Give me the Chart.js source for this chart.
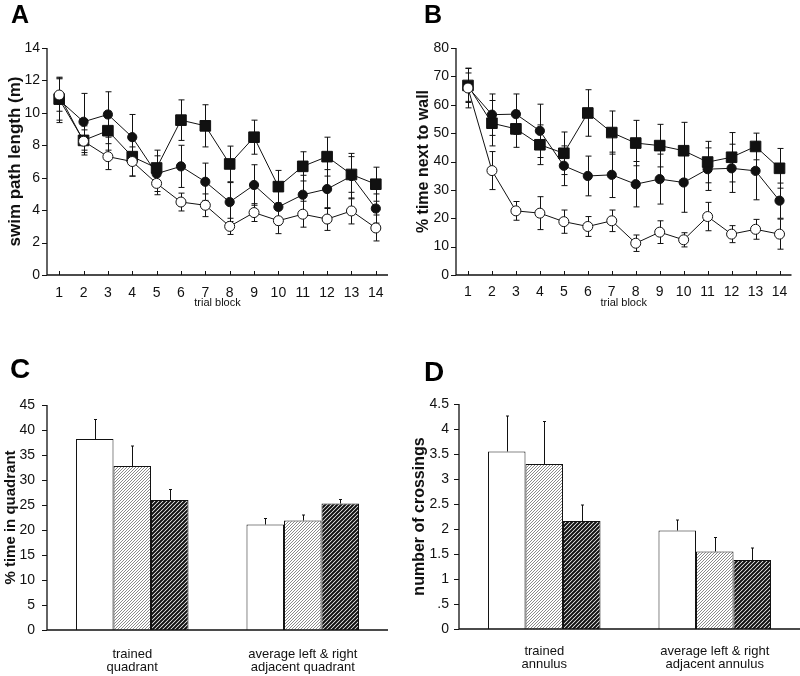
<!DOCTYPE html>
<html>
<head>
<meta charset="utf-8">
<script src="https://cdn.jsdelivr.net/npm/chart.js@4.4.1/dist/chart.umd.min.js"></script>
<style>
  body { margin: 0; background: #fff; width: 800px; height: 676px; position: relative; overflow: hidden;
         font-family: "Liberation Sans", Arial, sans-serif; }
  .panel { position: absolute; }
  .letter { position: absolute; font-weight: bold; line-height: 1; color: #000; }
</style>
</head>
<body>
<div class="panel" style="left:0;top:0"><canvas id="chartA" width="400" height="330"></canvas></div>
<div class="panel" style="left:400px;top:0"><canvas id="chartB" width="400" height="330"></canvas></div>
<div class="panel" style="left:0;top:330px"><canvas id="chartC" width="400" height="346"></canvas></div>
<div class="panel" style="left:400px;top:330px"><canvas id="chartD" width="400" height="346"></canvas></div>
<div class="letter" style="left:11px;top:2px;font-size:25px">A</div>
<div class="letter" style="left:424px;top:2px;font-size:25px">B</div>
<div class="letter" style="left:10px;top:355px;font-size:28px">C</div>
<div class="letter" style="left:424px;top:358px;font-size:28px">D</div>

<script>
// trial blocks (x categories for A and B)
const trialBlocks = ['1', '2', '3', '4', '5', '6', '7', '8', '9', '10', '11', '12', '13', '14'];

// A: swim path length (m)
const pathOpen      = [11.1, 8.25, 7.3, 7.0, 5.65, 4.5, 4.3, 3.0, 3.85, 3.35, 3.75, 3.45, 3.95, 2.9];
const pathOpenErr   = [1.0, 0.7, 0.8, 0.9, 0.7, 0.55, 0.7, 0.5, 0.55, 0.8, 0.8, 0.7, 0.8, 0.8];
const pathSquare    = [10.85, 8.3, 8.9, 7.3, 6.6, 9.55, 9.2, 6.85, 8.5, 5.45, 6.7, 7.3, 6.2, 5.6];
const pathSquareErr = [1.3, 0.9, 1.2, 1.2, 1.1, 1.25, 1.3, 1.1, 1.05, 1.0, 0.9, 1.2, 1.1, 1.05];
const pathFilled    = [10.8, 9.45, 9.9, 8.5, 6.25, 6.7, 5.75, 4.5, 5.55, 4.2, 4.95, 5.3, 6.1, 4.1];
const pathFilledErr = [1.4, 1.75, 1.4, 1.4, 1.1, 1.3, 1.15, 1.2, 1.25, 1.1, 1.2, 1.2, 1.4, 0.9];

// B: % time next to wall
const wallOpen      = [65.9, 36.8, 22.6, 21.8, 18.8, 17.1, 19.1, 11.2, 15.1, 12.4, 20.6, 14.4, 16.1, 14.4];
const wallOpenErr   = [7, 6.7, 3.3, 5.8, 4.1, 3.5, 3.8, 2.9, 4, 2.5, 5, 3, 3.5, 5.3];
const wallSquare    = [66.8, 53.5, 51.5, 45.9, 42.9, 57.1, 50.2, 46.5, 45.6, 43.8, 39.8, 41.5, 45.3, 37.6];
const wallSquareErr = [6, 8, 6.5, 7, 7.5, 8.2, 7.6, 8, 7.5, 10, 7.3, 8.7, 4.7, 7];
const wallFilled    = [66.2, 56.5, 56.7, 50.8, 38.5, 34.9, 35.3, 32.0, 33.8, 32.6, 37.3, 37.6, 36.7, 26.2];
const wallFilledErr = [5, 7.3, 7.1, 9.4, 7, 7, 8, 8, 8.8, 10.5, 7.5, 8.5, 10.2, 6.2];

// C: % time in quadrant
const quadCats     = [['trained', 'quadrant'], ['average left & right', 'adjacent quadrant']];
const quadWhite    = [38.2, 21.1];
const quadWhiteErr = [3.9, 1.2];
const quadLight    = [32.8, 21.9];
const quadLightErr = [4.0, 1.1];
const quadDark     = [26.0, 25.3];
const quadDarkErr  = [2.1, 0.8];

// D: number of crossings
const annCats     = [['trained', 'annulus'], ['average left & right', 'adjacent annulus']];
const annWhite    = [3.55, 1.97];
const annWhiteErr = [0.71, 0.21];
const annLight    = [3.30, 1.55];
const annLightErr = [0.85, 0.28];
const annDark     = [2.16, 1.38];
const annDarkErr  = [0.32, 0.24];

Chart.defaults.font.family = '"Liberation Sans", Arial, sans-serif';
Chart.defaults.color = '#111';
Chart.defaults.animation = false;

// axis lines + tick marks (majors longer than minors, x ticks point inward)
const figAxes = {
  id: 'figAxes',
  afterDraw(chart, args, opts) {
    const { ctx, chartArea: a, scales: { x, y } } = chart;
    ctx.save();
    ctx.strokeStyle = '#111';
    ctx.lineWidth = 1.3;
    ctx.beginPath();
    ctx.moveTo(a.left, a.top);
    ctx.lineTo(a.left, a.bottom);
    ctx.lineTo(a.right, a.bottom);
    ctx.stroke();
    ctx.lineWidth = 1;
    y.ticks.forEach(t => {
      const py = Math.round(y.getPixelForValue(t.value)) + 0.5;
      const len = t.label !== '' ? 5 : 3;
      ctx.beginPath();
      ctx.moveTo(a.left, py);
      ctx.lineTo(a.left - len, py);
      ctx.stroke();
    });
    if (opts.xTicks) {
      x.ticks.forEach((t, i) => {
        const px = Math.round(x.getPixelForValue(i)) + 0.5;
        ctx.beginPath();
        ctx.moveTo(px, a.bottom);
        ctx.lineTo(px, a.bottom - 4);
        ctx.stroke();
      });
    }
    ctx.restore();
  }
};

// error bars, read from each dataset's "errors" array
function drawErrors(chart) {
  const { ctx, scales: { y } } = chart;
  ctx.save();
  ctx.strokeStyle = '#111';
  ctx.lineWidth = 1;
  chart.data.datasets.forEach((ds, i) => {
    if (!ds.errors) return;
    const meta = chart.getDatasetMeta(i);
    meta.data.forEach((el, j) => {
      const v = ds.data[j], e = ds.errors[j];
      const x = Math.round(el.x) + 0.5;
      const top = y.getPixelForValue(v + e);
      const bot = y.getPixelForValue(ds.upOnly ? v : v - e);
      const cap = ds.upOnly ? 1.5 : 3;
      ctx.beginPath();
      ctx.moveTo(x, top);
      ctx.lineTo(x, bot);
      ctx.moveTo(x - cap, top);
      ctx.lineTo(x + cap, top);
      if (!ds.upOnly) {
        ctx.moveTo(x - cap, bot);
        ctx.lineTo(x + cap, bot);
      }
      ctx.stroke();
    });
  });
  ctx.restore();
}

const errorBars = {
  id: 'errorBars',
  beforeDatasetsDraw(chart) { if (chart.config.type === 'line') drawErrors(chart); },
  afterDatasetsDraw(chart) { if (chart.config.type === 'bar') drawErrors(chart); }
};

Chart.register(figAxes, errorBars);

function hatch(color, width, size) {
  const c = document.createElement('canvas');
  c.width = c.height = size;
  const g = c.getContext('2d');
  g.fillStyle = '#fff';
  g.fillRect(0, 0, size, size);
  g.strokeStyle = color;
  g.lineWidth = width;
  g.beginPath();
  g.moveTo(0, size); g.lineTo(size, 0);
  g.moveTo(-1, 1); g.lineTo(1, -1);
  g.moveTo(size - 1, size + 1); g.lineTo(size + 1, size - 1);
  g.stroke();
  return g.createPattern(c, 'repeat');
}

function lineSeries(data, errors, style) {
  const base = {
    data: data,
    errors: errors,
    borderColor: '#111',
    borderWidth: 1,
    pointBorderColor: '#111',
    pointBorderWidth: 1,
    tension: 0
  };
  if (style === 'open') return Object.assign(base, { pointStyle: 'circle', pointRadius: 5, pointBackgroundColor: '#fff' });
  if (style === 'square') return Object.assign(base, { pointStyle: 'rect', pointRadius: 7.5, pointBackgroundColor: '#111' });
  return Object.assign(base, { pointStyle: 'circle', pointRadius: 4.6, pointBackgroundColor: '#111' });
}

function yAxis(max, step, labelOf, title, g) {
  return {
    min: 0, max: max,
    grid: { display: false, drawTicks: false },
    border: { display: false },
    ticks: { stepSize: step, maxTicksLimit: 100, padding: g.tickPad, font: { size: 14 }, callback: labelOf },
    title: { display: true, text: title, font: { size: g.titleSize, weight: 'bold' }, padding: { top: g.titlePad } },
    afterFit(s) { s.width = g.yw; }
  };
}

// A
new Chart(document.getElementById('chartA'), {
  type: 'line',
  data: {
    labels: trialBlocks,
    datasets: [
      lineSeries(pathOpen, pathOpenErr, 'open'),
      lineSeries(pathSquare, pathSquareErr, 'square'),
      lineSeries(pathFilled, pathFilledErr, 'filled')
    ]
  },
  options: {
    responsive: false,
    layout: { padding: { top: 48, right: 12, left: 0, bottom: 0 } },
    plugins: { legend: { display: false }, tooltip: { enabled: false }, figAxes: { xTicks: true } },
    scales: {
      x: {
        offset: true,
        grid: { display: false, drawTicks: false },
        border: { display: false },
        ticks: { padding: 10, font: { size: 14 }, autoSkip: false, maxRotation: 0 },
        title: { display: true, text: 'trial block', font: { size: 11 }, padding: { top: 0, bottom: 20 } },
        afterFit(s) { s.height = 55; }
      },
      y: yAxis(14, 1, v => (v % 2 === 0 ? String(v) : ''), 'swim path length (m)',
        { yw: 47, tickPad: 7, titleSize: 17, titlePad: 5 })
    }
  }
});

// B
new Chart(document.getElementById('chartB'), {
  type: 'line',
  data: {
    labels: trialBlocks,
    datasets: [
      lineSeries(wallOpen, wallOpenErr, 'open'),
      lineSeries(wallSquare, wallSquareErr, 'square'),
      lineSeries(wallFilled, wallFilledErr, 'filled')
    ]
  },
  options: {
    responsive: false,
    layout: { padding: { top: 48, right: 3, left: 0, bottom: 0 } },
    plugins: { legend: { display: false }, tooltip: { enabled: false }, figAxes: { xTicks: true } },
    scales: {
      x: {
        offset: true,
        grid: { display: false, drawTicks: false },
        border: { display: false },
        ticks: { padding: 9, font: { size: 14 }, autoSkip: false, maxRotation: 0 },
        title: { display: true, text: 'trial block', font: { size: 11 }, padding: { top: 0, bottom: 20 } },
        afterFit(s) { s.height = 55; }
      },
      y: yAxis(80, 5, v => (v % 10 === 0 ? String(v) : ''), '% time next to wall',
        { yw: 56, tickPad: 7, titleSize: 16, titlePad: 14 })
    }
  }
});

function barChart(id, cats, sets, yConf, g) {
  const fills = ['#fff', hatch('#8a8a8a', 1, 3), hatch('#111', 2, 4)];
  return new Chart(document.getElementById(id), {
    type: 'bar',
    data: {
      labels: cats,
      datasets: sets.map((s, i) => ({
        data: s[0],
        errors: s[1],
        upOnly: true,
        backgroundColor: fills[i],
        borderColor: '#111',
        borderWidth: 1,
        categoryPercentage: 0.66,
        barPercentage: 1.0
      }))
    },
    options: {
      responsive: false,
      layout: { padding: { top: g.top, right: g.right, left: 0, bottom: 0 } },
      plugins: { legend: { display: false }, tooltip: { enabled: false }, figAxes: { xTicks: false } },
      scales: {
        x: {
          grid: { display: false, drawTicks: false },
          border: { display: false },
          ticks: { padding: g.catPad, font: { size: 13, lineHeight: 1.0 }, autoSkip: false, maxRotation: 0 },
          afterFit(s) { s.height = g.xh; }
        },
        y: yConf
      }
    }
  });
}

// C
barChart('chartC', quadCats,
  [[quadWhite, quadWhiteErr], [quadLight, quadLightErr], [quadDark, quadDarkErr]],
  yAxis(45, 2.5, v => (v % 5 === 0 ? String(v) : ''), '% time in quadrant',
    { yw: 47, tickPad: 12, titleSize: 15, titlePad: 2 }),
  { top: 75, right: 12, xh: 46, catPad: 18 });

// D
barChart('chartD', annCats,
  [[annWhite, annWhiteErr], [annLight, annLightErr], [annDark, annDarkErr]],
  yAxis(4.5, 0.25, v => {
    if (Math.abs(v * 2 - Math.round(v * 2)) > 1e-6) return '';
    if (v === 0) return '0';
    if (v < 1) return '.5';
    return String(Math.round(v * 10) / 10);
  }, 'number of crossings', { yw: 59, tickPad: 10, titleSize: 16, titlePad: 10 }),
  { top: 74, right: 0, xh: 47, catPad: 16 });
</script>
</body>
</html>
